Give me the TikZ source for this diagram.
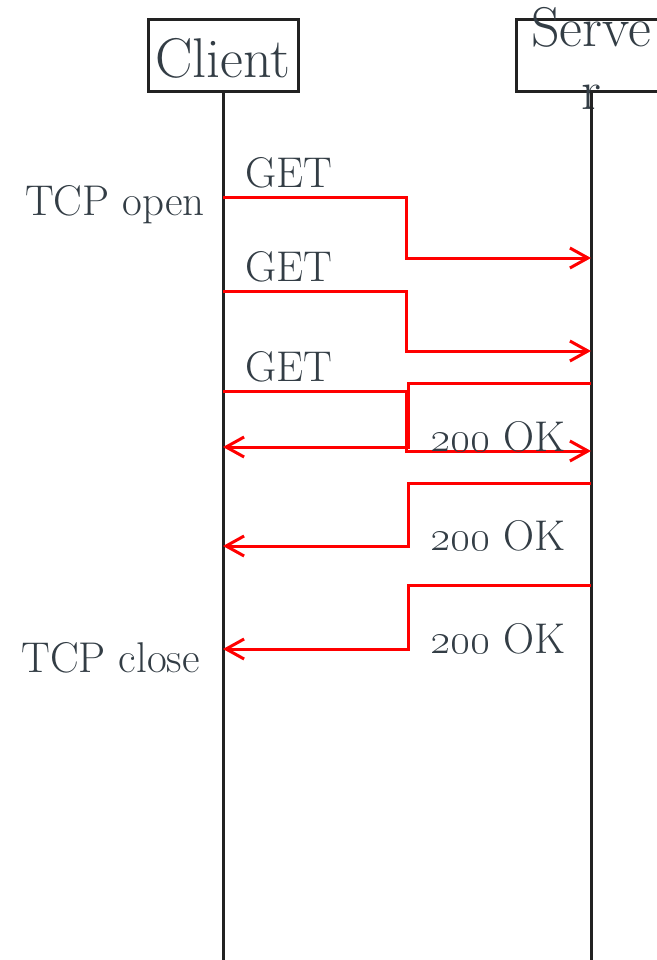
\RequirePackage{fix-cm}
\documentclass[tikz,border=0pt]{standalone}
\usetikzlibrary{arrows.meta, positioning, calc}
\definecolor{cred}{HTML}{FF0000}
\definecolor{cink}{HTML}{333D45}
\definecolor{cline}{HTML}{222222}
\tikzset{
  every picture/.style={x=1pt, y=-1pt},
  head/.style={draw=cline, line width=3pt, minimum width=150pt, minimum height=72pt, inner sep=0pt, text=cink, font=\fontsize{56}{63}\selectfont},
  life/.style={draw=cline, line width=3pt},
  msg/.style={draw=cred, line width=3pt, -{Straight Barb[length=18pt, width=20pt]}},
  lbl/.style={text=cink, font=\fontsize{43}{50}\selectfont, inner sep=0pt},
}
\begin{document}
\begin{tikzpicture}
  \useasboundingbox (0,0) rectangle (656,960);
  % the two lifelines
  \node[head, text height=44pt, text depth=0pt] (client) at (223,56) {Client};
  \node[head] (server) at (591,56) {};
  \node[text=cink, font=\fontsize{56}{63}\selectfont, align=center, inner sep=0pt] (srvname) at (591,58) {Serve\\r};
  \coordinate (clientend) at (client.south |- 0,960);
  \coordinate (serverend) at (server.south |- 0,960);
  \draw[life] (client.south) -- (clientend);
  \draw[life] (server.south) -- (serverend);
  % requests
  \foreach \n/\ya/\yb in {1/197/258, 2/291/351, 3/391/451} {
    \draw[msg] (client.south |- 0,\ya) -- (406,\ya) |- (server.south |- 0,\yb);
    \node[lbl, anchor=base west] (get\n) at (245,\ya-10) {GET};
  }
  % responses
  \foreach \n/\ya/\yb in {1/383/447, 2/483/546, 3/585/649} {
    \draw[msg] (server.south |- 0,\ya) -- (408,\ya) |- (client.south |- 0,\yb);
    \node[lbl, anchor=base west] (ok\n) at (430,\yb+4) {\oldstylenums{200} OK};
  }
  \node[lbl, anchor=base east] (open) at (205,215) {TCP open};
  \node[lbl, anchor=base east] (close) at (200,672) {TCP close};
\end{tikzpicture}
\end{document}
